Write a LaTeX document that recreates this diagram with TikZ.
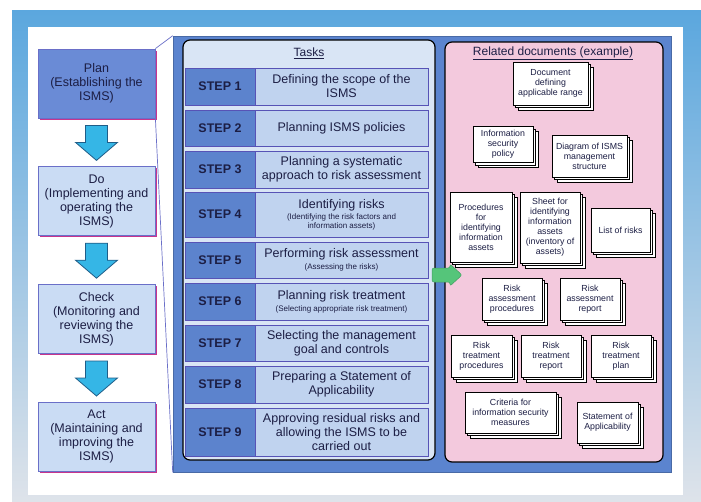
\documentclass[tikz,border=0pt]{standalone}
\usepackage{fontspec}
\setmainfont{Liberation Sans}
\usetikzlibrary{positioning,calc,shadows}

\definecolor{frametop}{HTML}{5BA7DE}
\definecolor{framebot}{HTML}{DEE3EA}
\definecolor{ink}{HTML}{1C1E44}
\definecolor{planblue}{HTML}{6A8BD6}
\definecolor{phasebg}{HTML}{CADCF4}
\definecolor{phaseline}{HTML}{6A6FC8}
\definecolor{phaseshade}{HTML}{C8358C}
\definecolor{arrowfill}{HTML}{35B6E6}
\definecolor{arrowline}{HTML}{1F5D88}
\definecolor{stageblue}{HTML}{5B84CF}
\definecolor{taskbg}{HTML}{D9E5F5}
\definecolor{docbg}{HTML}{F3C9DD}
\definecolor{steplabel}{HTML}{5C83CD}
\definecolor{steptext}{HTML}{C0D3EF}
\definecolor{stepline}{HTML}{5753B6}
\definecolor{handgreen}{HTML}{55C57A}

\newcommand{\phasefont}{\fontsize{12.5}{14}\selectfont}
\newcommand{\taskfont}{\fontsize{12.5}{14}\selectfont}
\newcommand{\subfont}{\fontsize{8}{9}\selectfont}
\newcommand{\docfont}{\fontsize{8.8}{10}\selectfont}

\begin{document}
\begin{tikzpicture}[x=1pt,y=-1pt,
  phase/.style={draw=phaseline, line width=.8pt, fill=phasebg, text=ink,
    minimum width=117, minimum height=69, align=center, font=\phasefont,
    drop shadow={shadow xshift=1.5pt, shadow yshift=-1.5pt, fill=phaseshade, opacity=1}},
  bigarrow/.style={fill=arrowfill, draw=arrowline, line width=.8pt},
  link/.style={draw=phaseline, line width=.7pt},
  stage/.style={fill=stageblue, draw=stageblue!80!black, line width=.6pt,
    minimum width=498, minimum height=436},
  panel/.style={draw=black, line width=1.2pt, rounded corners=7pt},
  title/.style={font=\fontsize{12}{14}\selectfont, text=ink},
  stepbox/.style={draw=stepline, line width=.8pt, fill=steplabel, text=ink,
    minimum width=70, outer sep=0pt, font=\taskfont\bfseries},
  taskbox/.style={draw=stepline, line width=.8pt, fill=steptext, text=ink,
    minimum width=173, outer sep=0pt, inner sep=1pt, align=center, font=\taskfont},
  doc/.style={draw=black, fill=white, line width=.6pt, text=ink, align=center,
    font=\docfont, inner sep=1pt,
    double copy shadow={shadow xshift=2.5pt, shadow yshift=-2.5pt, fill=white, draw=black}},
  handoff/.style={fill=handgreen, draw=handgreen!80!black, line width=.5pt, rounded corners=2pt}]
\useasboundingbox (0,0) rectangle (701,501);
\shade[top color=frametop, bottom color=framebot] (12,10) rectangle (701,501);
\fill[white] (28,27) rectangle (683,495);

% PDCA phases
\node[phase, fill=planblue] (plan) at (96.5,83.5) {Plan\\(Establishing the\\ISMS)};
\node[phase, below=48pt of plan] (do) {Do\\(Implementing and\\operating the\\ISMS)};
\node[phase, below=48pt of do] (check) {Check\\(Monitoring and\\reviewing the\\ISMS)};
\node[phase, below=48pt of check] (act) {Act\\(Maintaining and\\improving the\\ISMS)};

\foreach \a/\b in {plan/do,do/check,check/act}
  \draw[bigarrow] ($(\a.south)+(-11,7)$) -- ($(\a.south)+(11,7)$) -- ($(\b.north)+(11,-24)$)
    -- ($(\b.north)+(21,-24)$) -- ($(\b.north)+(0,-6)$) -- ($(\b.north)+(-21,-24)$)
    -- ($(\b.north)+(-11,-24)$) -- cycle;

% zoom on Plan
\node[stage] (stage) at (422,254) {};
\draw[link] (plan.north east) -- (stage.north west);
\draw[link] (plan.south east) -- (stage.south west);

\node[panel, fill=taskbg, minimum width=252, minimum height=420] (tasks) at (309,250) {};
\node[panel, fill=docbg, minimum width=218, minimum height=420] (docs) at (554,252) {};
\node[title] (taskhead) at (309,53) {\underline{Tasks}};
\node[title] (dochead) at (553,53) {\underline{Related documents (example)}};

% steps
\foreach \n/\yc/\h/\txt in {
  1/86.5/37/{Defining the scope of the\\ISMS},
  2/128/36/{Planning ISMS policies},
  3/169.5/37/{Planning a systematic\\approach to risk assessment},
  4/214.5/45/{Identifying risks\\[-3pt]{\subfont(Identifying the risk factors and}\\[-5pt]{\subfont information assets)}},
  5/260/36/{Performing risk assessment\\[-2pt]{\subfont(Assessing the risks)}},
  6/301.5/37/{Planning risk treatment\\[-2pt]{\subfont(Selecting appropriate risk treatment)}},
  7/343/36/{Selecting the management\\goal and controls},
  8/384.5/37/{Preparing a Statement of\\Applicability},
  9/432/48/{Approving residual risks and\\allowing the ISMS to be\\carried out}}{
  \node[stepbox, minimum height=\h] (s\n) at (220,\yc) {STEP \n};
  \node[taskbox, minimum height=\h, right=0pt of s\n] (t\n) {\txt};
}

% documents
\node[doc, minimum width=75, minimum height=43] (range) at (550.5,83.5) {Document\\defining\\applicable range};
\node[doc, minimum width=60, minimum height=36] (policy) at (503,144.5) {Information\\security\\policy};
\node[doc, minimum width=75, minimum height=42] (structure) at (589.5,156) {Diagram of ISMS\\management\\structure};
\node[doc, minimum width=62, minimum height=70] (assetproc) at (481,227) {Procedures\\for\\identifying\\information\\assets};
\node[doc, minimum width=60, minimum height=71] (inventory) at (550,227.5) {Sheet for\\identifying\\information\\assets\\(inventory of\\assets)};
\node[doc, minimum width=59, minimum height=44] (risklist) at (620.5,230) {List of risks};
\node[doc, minimum width=60, minimum height=42] (raproc) at (512,299) {Risk\\assessment\\procedures};
\node[doc, minimum width=60, minimum height=42] (rareport) at (590,299) {Risk\\assessment\\report};
\node[doc, minimum width=61, minimum height=42] (rtproc) at (481.5,356) {Risk\\treatment\\procedures};
\node[doc, minimum width=60, minimum height=42] (rtreport) at (551,356) {Risk\\treatment\\report};
\node[doc, minimum width=60, minimum height=42] (rtplan) at (621,356) {Risk\\treatment\\plan};
\node[doc, minimum width=91, minimum height=41] (criteria) at (510.5,412.5) {Criteria for\\information security\\measures};
\node[doc, minimum width=61, minimum height=41] (soa) at (607.5,422.5) {Statement of\\Applicability};

% hand-over arrow
\coordinate (hand) at (432,275);
\draw[handoff] (hand) ++(0,-7) -- ++(18,0) -- ++(0,-4) -- ++(12,11) -- ++(-12,11)
  -- ++(0,-4) -- ++(-18,0) -- cycle;
\end{tikzpicture}
\end{document}
